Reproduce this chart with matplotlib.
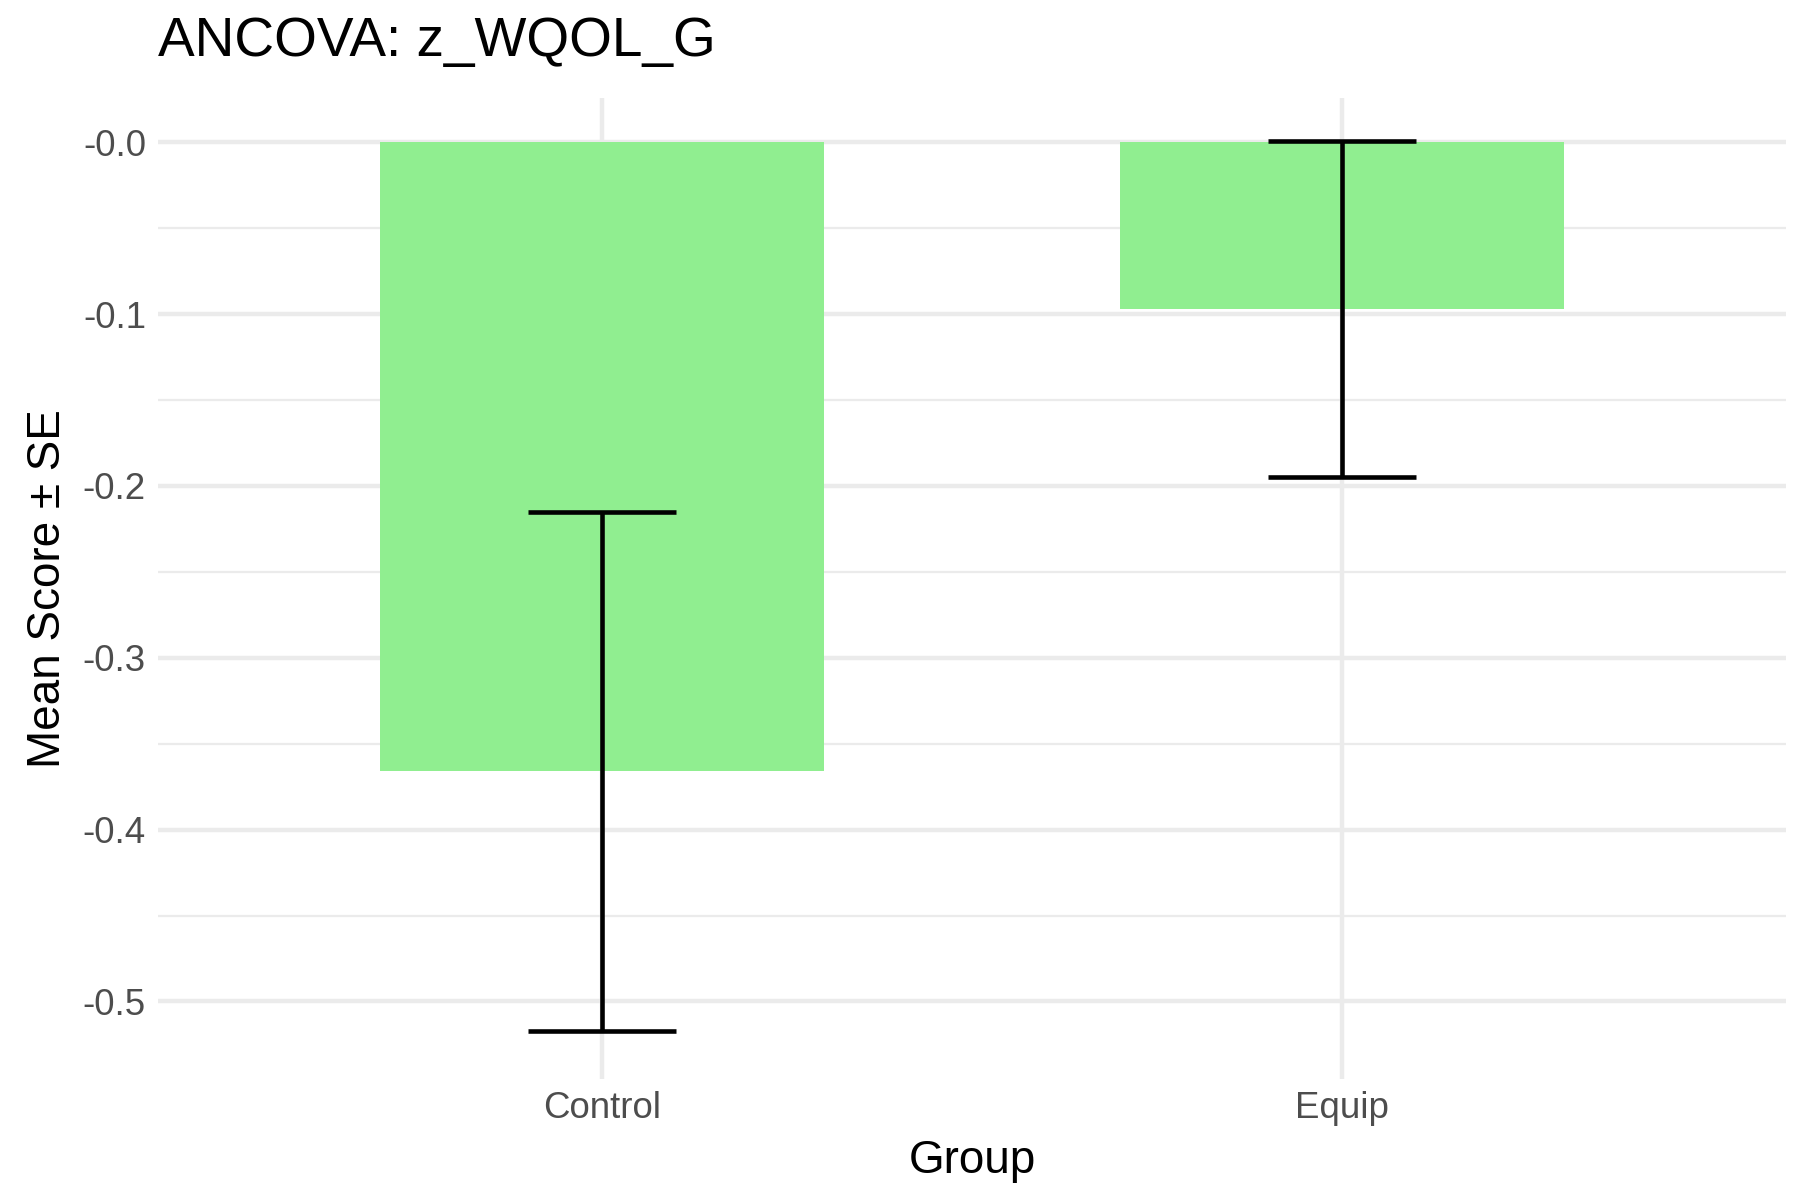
import matplotlib.pyplot as plt
import numpy as np

plt.rcParams['font.family'] = ['Liberation Sans', 'DejaVu Sans']

groups = ["Control", "Equip"]
means = [-0.366, -0.097]
ses = [0.151, 0.098]

fig = plt.figure(figsize=(6, 4), dpi=300)
ax = fig.add_axes([0.088, 0.101, 0.904, 0.817])
x = np.arange(1, len(groups) + 1)

# grid
for y in np.arange(-0.55, 0.01, 0.1):
    ax.axhline(y, color="#EBEBEB", lw=0.55, zorder=0)
for y in np.arange(-0.5, 0.01, 0.1):
    ax.axhline(y, color="#EBEBEB", lw=1.07, zorder=0)
for xi in x:
    ax.axvline(xi, color="#EBEBEB", lw=1.07, zorder=0)

ax.bar(x, means, width=0.6, color="#90EE90", zorder=1)
m = np.array(means)
s = np.array(ses)
ax.vlines(x, m - s, m + s, color="black", lw=1.1, zorder=2)
ax.hlines(m - s, x - 0.1, x + 0.1, color="black", lw=1.1, zorder=2)
ax.hlines(m + s, x - 0.1, x + 0.1, color="black", lw=1.1, zorder=2)

ax.set_xlim(0.4, 2.6)
ax.set_ylim(-0.545, 0.0255)
ax.set_xticks(x)
ax.set_xticklabels(groups)
ax.set_yticks(np.arange(-0.5, 0.01, 0.1))
ax.set_yticklabels([f"{v:.1f}" for v in np.arange(-0.5, 0.01, 0.1)])
ax.tick_params(length=0, labelsize=8.8, labelcolor="#4D4D4D", pad=3)
for sp in ax.spines.values():
    sp.set_visible(False)
ax.set_xlabel("Group", fontsize=11, labelpad=3)
ax.set_ylabel("Mean Score ± SE", fontsize=11, labelpad=3)
fig.text(0.088, 0.965, "ANCOVA: z_WQOL_G", fontsize=13.2, va="center", ha="left")

fig.savefig("out.png", dpi=300, facecolor="white")
